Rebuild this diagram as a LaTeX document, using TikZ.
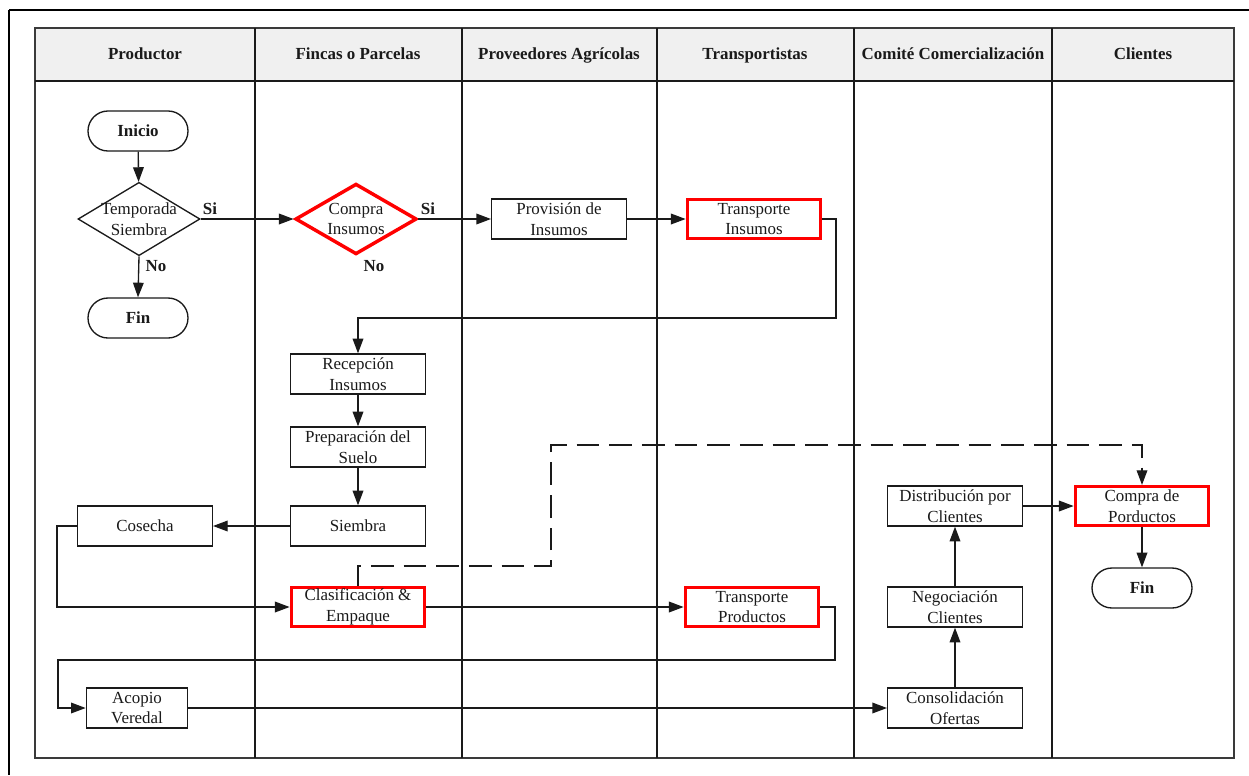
\documentclass[tikz,border=0pt]{standalone}
\usepackage{fontspec}
\setmainfont{Liberation Serif}
\usetikzlibrary{shapes.geometric,arrows.meta}

\definecolor{hdrfill}{HTML}{F0F0F0}
\definecolor{poolline}{HTML}{3A3A3A}
\definecolor{ink}{HTML}{1A1A1A}

\tikzset{
  txt/.style={font=\fontsize{12.7}{15.5}\selectfont, text=ink},
  boldtxt/.style={font=\fontsize{12.7}{15.5}\selectfont\bfseries, text=ink},
  box/.style={txt, draw=ink, line width=1pt, fill=white, minimum width=101pt,
    minimum height=30pt, inner sep=1pt, align=center},
  redbox/.style={box, draw=red, line width=2.6pt, minimum width=100pt, minimum height=29pt},
  term/.style={boldtxt, draw=ink, line width=1pt, fill=white, rounded corners=15pt,
    minimum width=75pt, minimum height=30pt, inner sep=1pt},
  dia/.style={diamond, draw=ink, line width=1pt, fill=white, minimum width=91.5pt,
    minimum height=55pt, inner sep=0pt},
  reddia/.style={dia, draw=red, line width=2.6pt, minimum width=91pt, minimum height=53pt},
  arr/.style={draw=ink, line width=1pt, -{Triangle[length=11pt,width=8pt]}},
  lane/.style={draw=ink, line width=1.1pt},
  hdr/.style={boldtxt, anchor=center, text height=9pt, text depth=2.5pt},
  lbl/.style={boldtxt, inner sep=0pt},
}

\begin{document}
\begin{tikzpicture}[x=0.75pt, y=-0.75pt]
  \useasboundingbox (0,0) rectangle (1249,775);

  % outer frame (top and left edges)
  \draw[line width=1.8pt, black] (9,10) -- (1249,10);
  \draw[line width=1.8pt, black] (9,10) -- (9,775);

  % pool with header band
  \fill[white] (35,28) rectangle (1234,758);
  \fill[hdrfill] (35,28) rectangle (1234,81);
  \draw[draw=poolline, line width=1.1pt] (35,28) rectangle (1234,758);
  \draw[lane] (35,81) -- (1234,81);
  \foreach \xx in {255,462,657,854,1052}
    \draw[lane] (\xx,28) -- (\xx,758);

  % lane titles
  \node[hdr] (h1) at (145,55) {Productor};
  \node[hdr] (h2) at (358,55) {Fincas o Parcelas};
  \node[hdr] (h3) at (559,55) {Proveedores Agrícolas};
  \node[hdr] (h4) at (755,55) {Transportistas};
  \node[hdr] (h5) at (953,55) {Comité Comercialización};
  \node[hdr] (h6) at (1143,55) {Clientes};

  % Productor
  \node[term] (inicio) at (138,131) {Inicio};
  \node[dia] (temp) at (139,219) {};
  \node[txt, align=center] (tempT) at (139,219) {Temporada\\Siembra};
  \node[term] (fin1) at (138,318) {Fin};
  \node[box, minimum width=101pt] (cos) at (145,526) {Cosecha};
  \node[box, minimum width=76pt] (acopio) at (137,708) {Acopio\\Veredal};

  % Fincas o Parcelas
  \node[reddia] (compra) at (356,219) {};
  \node[txt, align=center] (compraT) at (356,219) {Compra\\Insumos};
  \node[box] (recep) at (358,374) {Recepción\\Insumos};
  \node[box] (prep) at (358,447) {Preparación del\\Suelo};
  \node[box] (siembra) at (358,526) {Siembra};
  \node[redbox] (clas) at (358,607) {Clasificación \&\\Empaque};

  % Proveedores Agrícolas
  \node[box] (prov) at (559,219) {Provisión de\\Insumos};

  % Transportistas
  \node[redbox] (trIns) at (754,219) {Transporte\\Insumos};
  \node[redbox] (trProd) at (752,607) {Transporte\\Productos};

  % Comité Comercialización
  \node[box] (dist) at (955,506) {Distribución por\\Clientes};
  \node[box] (nego) at (955,607) {Negociación\\Clientes};
  \node[box] (cons) at (955,708) {Consolidación\\Ofertas};

  % Clientes
  \node[redbox] (compraP) at (1142,506) {Compra de\\Porductos};
  \node[term] (fin2) at (1142,588) {Fin};

  % decision labels
  \node[lbl] (si1) at (210,209) {Si};
  \node[lbl] (no1) at (156,266) {No};
  \node[lbl] (si2) at (428,209) {Si};
  \node[lbl] (no2) at (374,266) {No};

  % bend points of the routed connectors
  \coordinate (cA) at (836,318);
  \coordinate (cB) at (57,560);
  \coordinate (cC) at (835,660);
  \coordinate (cD) at (58,680);
  \coordinate (cE) at (551,566);
  \coordinate (cF) at (551,445);

  % connectors
  \draw[arr] (inicio) -- (temp);
  \draw[arr] (temp.south) -- (fin1.north);
  \draw[arr] (temp.east) -- (compra.west);
  \draw[arr] (compra.east) -- (prov.west);
  \draw[arr] (prov.east) -- (trIns.west);
  \draw[arr] (trIns.east) -| (cA) -| (recep.north);
  \draw[arr] (recep) -- (prep);
  \draw[arr] (prep) -- (siembra);
  \draw[arr] (siembra) -- (cos);
  \draw[arr] (cos.west) -| (cB) |- (clas.west);
  \draw[arr] (clas) -- (trProd);
  \draw[arr] (trProd.east) -| (cC) -| (cD) |- (acopio.west);
  \draw[arr] (acopio) -- (cons);
  \draw[arr] (cons) -- (nego);
  \draw[arr] (nego) -- (dist);
  \draw[arr] (dist) -- (compraP);
  \draw[arr] (compraP) -- (fin2);
  \draw[arr, dash pattern=on 17pt off 7.5pt] (clas.north) |- (cE) -- (cF) -| (compraP.north);
\end{tikzpicture}
\end{document}
